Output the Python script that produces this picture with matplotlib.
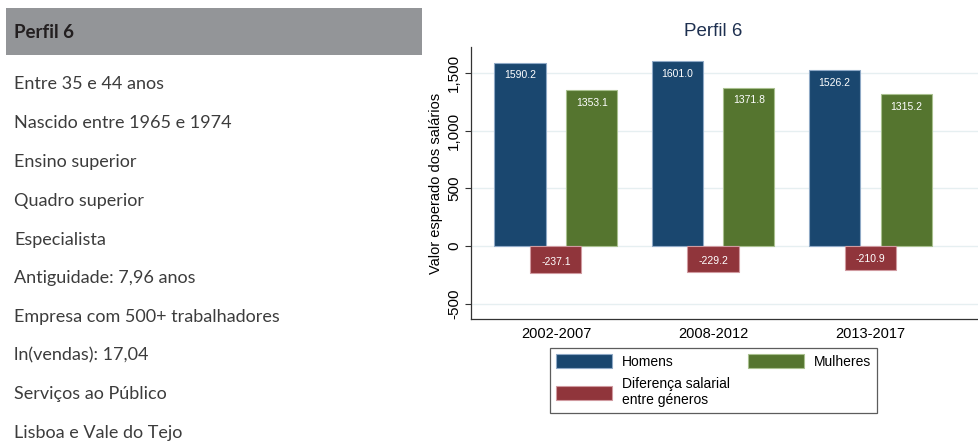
import matplotlib
matplotlib.use("Agg")
import matplotlib.pyplot as plt
from matplotlib.patches import Rectangle, Patch
import numpy as np

# Profile description
profile_title = "Perfil 6"
profile_lines = [
    "Entre 35 e 44 anos",
    "Nascido entre 1965 e 1974",
    "Ensino superior",
    "Quadro superior",
    "Especialista",
    "Antiguidade: 7,96 anos",
    "Empresa com 500+ trabalhadores",
    "ln(vendas): 17,04",
    "Serviços ao Público",
    "Lisboa e Vale do Tejo",
]

# Expected wages by period
periods = ["2002-2007", "2008-2012", "2013-2017"]
homens = [1590.2, 1601.0, 1526.2]
mulheres = [1353.1, 1371.8, 1315.2]
diferenca = [-237.1, -229.2, -210.9]
yticks = [-500, 0, 500, 1000, 1500]
ytick_labels = ["-500", "0", "500", "1,000", "1,500"]

W, H = 979, 441
fig = plt.figure(figsize=(W / 100, H / 100), dpi=100)
fig.patch.set_facecolor("white")


def fx(px):
    return px / W


def fy(py):
    return 1 - py / H


# ---- left panel: profile card ----
fig.patches.append(Rectangle((fx(6), fy(55)), fx(416), (47) / H,
                             transform=fig.transFigure, facecolor="#939598",
                             edgecolor="none", zorder=0))
fig.text(fx(14), fy(32), profile_title, family="Lato", weight="bold",
         fontsize=13.5, color="#231f20", va="center", ha="left")
line_y = [84, 123, 162, 201, 240, 278, 317, 355, 394, 433]
for txt, yy in zip(profile_lines, line_y):
    fig.text(fx(14), fy(yy), txt, family="Lato", weight="normal", fontsize=13,
             color="#3c3c3c", va="center", ha="left")

# ---- right panel: bar chart ----
ax_left, ax_right, ax_top, ax_bot = 471, 980, 47, 319
ax = fig.add_axes([fx(ax_left), fy(ax_bot), fx(ax_right - ax_left),
                   (ax_bot - ax_top) / H])

c_h = "#1a476f"
c_m = "#55752f"
c_d = "#90353b"
bw = 0.325
off = 0.229
x = np.arange(len(periods))

bh = ax.bar(x - off, homens, bw, color=c_h, edgecolor="#8fa9c6", linewidth=0.8, zorder=3)
bm = ax.bar(x + off, mulheres, bw, color=c_m, edgecolor="#a9c08f", linewidth=0.8, zorder=3)
bd = ax.bar(x, diferenca, bw, color=c_d, edgecolor="#d09aa0", linewidth=0.8, zorder=4)

for xi, v in zip(x - off, homens):
    ax.text(xi, v - 110, f"{v:.1f}", ha="center", va="center", color="white",
            fontsize=7.5, family="Liberation Sans", zorder=5)
for xi, v in zip(x + off, mulheres):
    ax.text(xi, v - 110, f"{v:.1f}", ha="center", va="center", color="white",
            fontsize=7.5, family="Liberation Sans", zorder=5)
for xi, v in zip(x, diferenca):
    ax.text(xi, v + 100, f"{v:.1f}", ha="center", va="center", color="white",
            fontsize=7.5, family="Liberation Sans", zorder=5)

ax.set_ylim(-633, 1725)
ax.set_xlim(-0.541, 2.70)
ax.set_yticks(yticks)
ax.set_yticklabels(ytick_labels, rotation=90, va="center",
                   family="Liberation Sans", fontsize=11)
ax.set_xticks(x)
ax.set_xticklabels(periods, family="Liberation Sans", fontsize=10.5)
ax.tick_params(axis="x", length=0, pad=6)
ax.tick_params(axis="y", length=4, width=0.8, pad=3, color="#333333")
ax.grid(axis="y", color="#e6eff1", linewidth=1.0, zorder=0)
ax.set_axisbelow(True)
for s in ["top", "right"]:
    ax.spines[s].set_visible(False)
for s in ["left", "bottom"]:
    ax.spines[s].set_color("#333333")
    ax.spines[s].set_linewidth(0.9)

ax.set_ylabel("Valor esperado dos salários", family="Liberation Sans",
              fontsize=10.5, labelpad=3)
fig.text(fx(713), fy(32), "Perfil 6", ha="center", va="center",
         family="Liberation Sans", fontsize=13.5, color="#1e3050")

handles = [
    Patch(facecolor=c_h, edgecolor="#8fa9c6", linewidth=0.8, label="Homens"),
    Patch(facecolor=c_d, edgecolor="#d09aa0", linewidth=0.8,
          label="Diferença salarial\nentre géneros"),
    Patch(facecolor=c_m, edgecolor="#a9c08f", linewidth=0.8, label="Mulheres"),
]
leg = fig.legend(handles=handles, ncol=2, loc="upper left",
                 bbox_to_anchor=(fx(550), fy(348), fx(327), 0),
                 mode="expand", frameon=True, fancybox=False,
                 prop={"family": "Liberation Sans", "size": 10},
                 handlelength=4.0, handleheight=1.1, handletextpad=0.7,
                 columnspacing=1.5, labelspacing=0.6, borderpad=0.45,
                 borderaxespad=0)
leg.get_frame().set_edgecolor("#333333")
leg.get_frame().set_linewidth(0.9)

fig.savefig("out.png", dpi=100)
